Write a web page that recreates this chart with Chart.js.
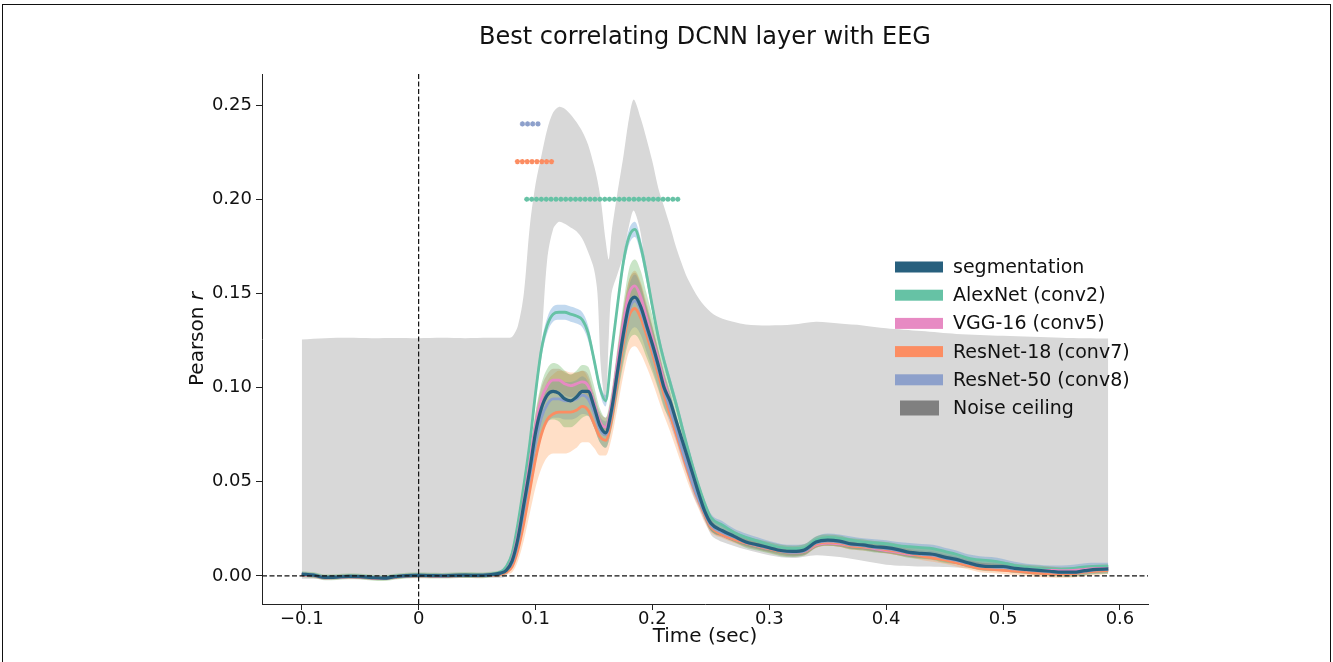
<!DOCTYPE html>
<html>
<head>
<meta charset="utf-8">
<title>Best correlating DCNN layer with EEG</title>
<script src="https://cdn.jsdelivr.net/npm/chart.js@4.4.1/dist/chart.umd.min.js"></script>
<style>
  body { margin: 0; background: #fff; }
  #wrap { position: relative; width: 1333px; height: 662px; overflow: hidden; }
  #frame { position: absolute; left: 2px; top: 4px; width: 1327px; height: 700px;
           border: 1.5px solid #111; border-bottom: none; pointer-events: none; }
  canvas { position: absolute; left: 0; top: 0; }
</style>
</head>
<body>
<div id="wrap">
  <canvas id="chart" width="1333" height="662"></canvas>
  <div id="frame"></div>
</div>
<script>
// time axis (sec) shared by the model curves
const times = [
  -0.1, -0.09, -0.08, -0.07, -0.06, -0.05, -0.04, -0.03, -0.02, -0.01, 0, 0.01, 0.02, 0.03, 0.04, 0.05, 0.06, 0.07,
  0.075, 0.08, 0.085, 0.09, 0.095, 0.1, 0.105, 0.11, 0.115, 0.12, 0.125, 0.13, 0.135, 0.14, 0.145, 0.15, 0.155, 0.16,
  0.165, 0.17, 0.175, 0.18, 0.185, 0.19, 0.195, 0.2, 0.205, 0.21, 0.215, 0.22, 0.225, 0.23, 0.235, 0.24, 0.245, 0.25,
  0.26, 0.27, 0.28, 0.29, 0.3, 0.31, 0.32, 0.33, 0.34, 0.35, 0.36, 0.37, 0.38, 0.39, 0.4, 0.41, 0.42, 0.43, 0.44, 0.45,
  0.46, 0.47, 0.48, 0.49, 0.5, 0.51, 0.52, 0.53, 0.54, 0.55, 0.56, 0.57, 0.58, 0.59
];

const segmentation = [
  0.001, 0.0004, -0.0008, -0.0006, -0.0002, -0.0004, -0.0009, -0.0012, -0.0004, 0.0002, 0.0003, 0.0002, 0.0001, 0.0003, 0.0004, 0.0003, 0.0006, 0.0015,
  0.003, 0.008, 0.02, 0.038, 0.056, 0.076, 0.089, 0.096, 0.098, 0.097, 0.094, 0.093, 0.095, 0.098, 0.098, 0.09, 0.08, 0.076,
  0.088, 0.108, 0.128, 0.144, 0.148, 0.143, 0.133, 0.123, 0.112, 0.1, 0.093, 0.083, 0.073, 0.063, 0.053, 0.043, 0.034, 0.028,
  0.024, 0.021, 0.018, 0.0165, 0.015, 0.0135, 0.013, 0.0138, 0.018, 0.019, 0.0185, 0.017, 0.0165, 0.0155, 0.015, 0.014, 0.0125, 0.012, 0.0115, 0.01,
  0.0088, 0.007, 0.0055, 0.005, 0.005, 0.004, 0.0035, 0.003, 0.0025, 0.002, 0.002, 0.0028, 0.0035, 0.0037
];
const segmentationErr = [
  0.0015, 0.0015, 0.0015, 0.0015, 0.0015, 0.0015, 0.0015, 0.0015, 0.0015, 0.0015, 0.0015, 0.0015, 0.0015, 0.0015, 0.0015, 0.0015, 0.0015, 0.0015,
  0.002, 0.003, 0.005, 0.007, 0.009, 0.011, 0.013, 0.014, 0.015, 0.015, 0.015, 0.014, 0.014, 0.014, 0.013, 0.011, 0.009, 0.008,
  0.01, 0.013, 0.016, 0.019, 0.02, 0.019, 0.017, 0.015, 0.013, 0.011, 0.01, 0.009, 0.008, 0.007, 0.006, 0.005, 0.004, 0.004,
  0.003, 0.003, 0.003, 0.003, 0.003, 0.003, 0.003, 0.003, 0.003, 0.003, 0.003, 0.003, 0.003, 0.003, 0.003, 0.003, 0.003, 0.003, 0.003, 0.003,
  0.0025, 0.0025, 0.0025, 0.0025, 0.0025, 0.0025, 0.0025, 0.0025, 0.0025, 0.0025, 0.0025, 0.0025, 0.0025, 0.0025
];

const alexnet = [
  0.0008, 0.0005, -0.0006, -0.0005, -0.0001, -0.0003, -0.0008, -0.001, -0.0003, 0.0002, 0.0004, 0.0003, 0.0002, 0.0003, 0.0004, 0.0004, 0.0007, 0.002,
  0.005, 0.012, 0.028, 0.048, 0.07, 0.097, 0.12, 0.133, 0.139, 0.14, 0.14, 0.139, 0.138, 0.136, 0.129, 0.115, 0.1, 0.093,
  0.118, 0.143, 0.166, 0.18, 0.184, 0.175, 0.16, 0.143, 0.127, 0.114, 0.103, 0.092, 0.08, 0.068, 0.057, 0.047, 0.038, 0.031,
  0.027, 0.023, 0.0205, 0.0185, 0.0165, 0.015, 0.0145, 0.015, 0.019, 0.0205, 0.02, 0.019, 0.018, 0.0175, 0.017, 0.016, 0.0155, 0.015, 0.0145, 0.013,
  0.0115, 0.0095, 0.0085, 0.008, 0.007, 0.0055, 0.0045, 0.004, 0.0035, 0.0035, 0.004, 0.0048, 0.005, 0.005
];
const alexnetErr = [
  0.001, 0.001, 0.001, 0.001, 0.001, 0.001, 0.001, 0.001, 0.001, 0.001, 0.001, 0.001, 0.001, 0.001, 0.001, 0.001, 0.001, 0.001,
  0.001, 0.002, 0.002, 0.003, 0.003, 0.004, 0.004, 0.004, 0.004, 0.004, 0.004, 0.004, 0.004, 0.004, 0.004, 0.003, 0.003, 0.003,
  0.003, 0.003, 0.004, 0.004, 0.004, 0.004, 0.004, 0.003, 0.003, 0.003, 0.003, 0.003, 0.003, 0.003, 0.003, 0.002, 0.002, 0.002,
  0.002, 0.002, 0.002, 0.002, 0.002, 0.002, 0.002, 0.002, 0.002, 0.002, 0.002, 0.002, 0.002, 0.002, 0.002, 0.002, 0.002, 0.002, 0.002, 0.002,
  0.002, 0.002, 0.002, 0.002, 0.002, 0.002, 0.002, 0.002, 0.002, 0.002, 0.002, 0.002, 0.002, 0.002
];

const vgg16 = [
  0.0006, 0.0002, -0.001, -0.0008, -0.0005, -0.0006, -0.0011, -0.0013, -0.0006, 0, 0.0001, 0, -0.0001, 0.0001, 0.0002, 0.0001, 0.0004, 0.0012,
  0.003, 0.009, 0.022, 0.04, 0.06, 0.08, 0.094, 0.101, 0.104, 0.104, 0.102, 0.101, 0.102, 0.103, 0.101, 0.092, 0.082, 0.079,
  0.091, 0.113, 0.134, 0.15, 0.154, 0.148, 0.137, 0.126, 0.115, 0.103, 0.093, 0.082, 0.071, 0.06, 0.05, 0.041, 0.033, 0.027,
  0.022, 0.0195, 0.0175, 0.016, 0.0145, 0.0135, 0.0125, 0.013, 0.0165, 0.0175, 0.017, 0.016, 0.0155, 0.0145, 0.0135, 0.0125, 0.0115, 0.011, 0.0105, 0.0095,
  0.008, 0.0065, 0.0055, 0.005, 0.0048, 0.004, 0.0035, 0.003, 0.003, 0.0028, 0.003, 0.0035, 0.004, 0.004
];
const vgg16Err = [
  0.001, 0.001, 0.001, 0.001, 0.001, 0.001, 0.001, 0.001, 0.001, 0.001, 0.001, 0.001, 0.001, 0.001, 0.001, 0.001, 0.001, 0.001,
  0.001, 0.002, 0.003, 0.004, 0.005, 0.006, 0.006, 0.006, 0.006, 0.006, 0.006, 0.006, 0.006, 0.006, 0.006, 0.005, 0.005, 0.005,
  0.005, 0.006, 0.007, 0.007, 0.007, 0.007, 0.006, 0.006, 0.005, 0.005, 0.005, 0.004, 0.004, 0.004, 0.003, 0.003, 0.003, 0.003,
  0.0015, 0.0015, 0.0015, 0.0015, 0.0015, 0.0015, 0.0015, 0.0015, 0.0015, 0.0015, 0.0015, 0.0015, 0.0015, 0.0015, 0.0015, 0.0015, 0.0015, 0.0015, 0.0015, 0.0015,
  0.0015, 0.0015, 0.0015, 0.0015, 0.0015, 0.0015, 0.0015, 0.0015, 0.0015, 0.0015, 0.0015, 0.0015, 0.0015, 0.0015
];

const resnet18 = [
  0.0007, 0.0003, -0.0009, -0.0007, -0.0003, -0.0005, -0.001, -0.0012, -0.0005, 0.0001, 0.0002, 0.0001, 0, 0.0002, 0.0003, 0.0002, 0.0004, 0.0008,
  0.002, 0.005, 0.014, 0.028, 0.045, 0.062, 0.075, 0.083, 0.086, 0.087, 0.087, 0.087, 0.088, 0.09, 0.088, 0.081, 0.074, 0.072,
  0.083, 0.103, 0.123, 0.138, 0.142, 0.137, 0.128, 0.118, 0.107, 0.096, 0.086, 0.076, 0.066, 0.056, 0.047, 0.039, 0.032, 0.026,
  0.022, 0.0195, 0.0175, 0.016, 0.0145, 0.013, 0.0125, 0.013, 0.017, 0.018, 0.0175, 0.016, 0.0155, 0.015, 0.014, 0.013, 0.012, 0.0105, 0.0095, 0.0085,
  0.007, 0.0055, 0.004, 0.0035, 0.003, 0.0025, 0.002, 0.0015, 0.0012, 0.001, 0.0012, 0.002, 0.0025, 0.003
];
const resnet18Err = [
  0.001, 0.001, 0.001, 0.001, 0.001, 0.001, 0.001, 0.001, 0.001, 0.001, 0.001, 0.001, 0.001, 0.001, 0.001, 0.001, 0.001, 0.001,
  0.001, 0.003, 0.006, 0.009, 0.012, 0.015, 0.018, 0.02, 0.021, 0.022, 0.022, 0.021, 0.02, 0.019, 0.017, 0.013, 0.01, 0.008,
  0.01, 0.014, 0.017, 0.019, 0.02, 0.019, 0.017, 0.015, 0.013, 0.011, 0.009, 0.008, 0.007, 0.006, 0.005, 0.004, 0.004, 0.003,
  0.002, 0.002, 0.002, 0.002, 0.002, 0.002, 0.002, 0.002, 0.002, 0.002, 0.002, 0.002, 0.002, 0.002, 0.002, 0.002, 0.002, 0.002, 0.002, 0.002,
  0.002, 0.002, 0.002, 0.002, 0.002, 0.002, 0.002, 0.002, 0.002, 0.002, 0.002, 0.002, 0.002, 0.002
];

const resnet50 = [
  0.0009, 0.0004, -0.0008, -0.0006, -0.0003, -0.0004, -0.0009, -0.0011, -0.0004, 0.0001, 0.0003, 0.0002, 0.0001, 0.0002, 0.0003, 0.0003, 0.0005, 0.0012,
  0.003, 0.007, 0.018, 0.035, 0.053, 0.071, 0.084, 0.091, 0.094, 0.094, 0.093, 0.093, 0.094, 0.096, 0.094, 0.087, 0.078, 0.075,
  0.086, 0.106, 0.126, 0.141, 0.146, 0.141, 0.131, 0.121, 0.11, 0.099, 0.089, 0.079, 0.068, 0.058, 0.048, 0.04, 0.033, 0.027,
  0.023, 0.0205, 0.0178, 0.0162, 0.0147, 0.0132, 0.0125, 0.0132, 0.0175, 0.0185, 0.018, 0.0165, 0.016, 0.015, 0.0145, 0.0135, 0.0122, 0.0115, 0.011, 0.0095,
  0.0083, 0.0067, 0.0052, 0.0047, 0.0045, 0.0037, 0.0032, 0.0027, 0.0022, 0.0018, 0.0018, 0.0025, 0.0032, 0.0034
];
const resnet50Err = [
  0.001, 0.001, 0.001, 0.001, 0.001, 0.001, 0.001, 0.001, 0.001, 0.001, 0.001, 0.001, 0.001, 0.001, 0.001, 0.001, 0.001, 0.001,
  0.001, 0.002, 0.004, 0.006, 0.007, 0.008, 0.009, 0.01, 0.01, 0.01, 0.01, 0.01, 0.01, 0.01, 0.009, 0.008, 0.007, 0.007,
  0.008, 0.01, 0.012, 0.013, 0.014, 0.013, 0.012, 0.011, 0.01, 0.009, 0.008, 0.007, 0.006, 0.005, 0.005, 0.004, 0.004, 0.003,
  0.002, 0.002, 0.002, 0.002, 0.002, 0.002, 0.002, 0.002, 0.002, 0.002, 0.002, 0.002, 0.002, 0.002, 0.002, 0.002, 0.002, 0.002, 0.002, 0.002,
  0.002, 0.002, 0.002, 0.002, 0.002, 0.002, 0.002, 0.002, 0.002, 0.002, 0.002, 0.002, 0.002, 0.002
];

// noise ceiling (own time samples)
const ceilTimes = [
  -0.1, -0.08, -0.06, -0.04, -0.02, 0, 0.02, 0.04, 0.06, 0.075,
  0.08, 0.085, 0.09, 0.095, 0.1, 0.105, 0.11, 0.115, 0.12, 0.125,
  0.13, 0.135, 0.14, 0.145, 0.15, 0.153, 0.156, 0.16, 0.1627, 0.165,
  0.17, 0.175, 0.18, 0.184, 0.19, 0.195, 0.2, 0.205, 0.21, 0.215,
  0.22, 0.225, 0.23, 0.24, 0.25, 0.26, 0.28, 0.3, 0.32, 0.34,
  0.36, 0.38, 0.4, 0.43, 0.46, 0.5, 0.55, 0.59
];
const ceilUpper = [
  0.1255, 0.1262, 0.1264, 0.1262, 0.1263, 0.1262, 0.1264, 0.1262, 0.1264, 0.1265,
  0.127, 0.133, 0.15, 0.185, 0.208, 0.223, 0.237, 0.246, 0.249, 0.248,
  0.245, 0.241, 0.236, 0.229, 0.218, 0.21, 0.199, 0.178, 0.168, 0.182,
  0.203, 0.222, 0.243, 0.253, 0.243, 0.232, 0.22, 0.206, 0.196, 0.186,
  0.175, 0.166, 0.158, 0.147, 0.14, 0.1365, 0.1335, 0.133, 0.1335, 0.135,
  0.134, 0.133, 0.1315, 0.13, 0.1285, 0.1275, 0.1265, 0.126
];
const ceilLower = [
  -0.0015, -0.0015, -0.0012, -0.0015, -0.0012, -0.001, -0.001, -0.001, -0.0008, 0,
  0.011, 0.027, 0.047, 0.069, 0.097, 0.125, 0.168, 0.184, 0.188, 0.187,
  0.185, 0.183, 0.179, 0.172, 0.163, 0.15, 0.11, 0.092, 0.127, 0.15,
  0.16, 0.17, 0.186, 0.194, 0.182, 0.157, 0.14, 0.125, 0.112, 0.1,
  0.089, 0.077, 0.064, 0.04, 0.022, 0.018, 0.014, 0.011, 0.0095, 0.011,
  0.01, 0.008, 0.006, 0.005, 0.0045, 0.003, 0.001, 0.002
];

// significance markers
const resnet50Sig = [0.0888, 0.0932, 0.0976, 0.1021];
const resnet50SigLevel = 0.24;
const resnet18Sig = [0.0845, 0.0887, 0.0929, 0.097, 0.1012, 0.1054, 0.1095, 0.1137];
const resnet18SigLevel = 0.22;
const alexnetSig = [
  0.0925, 0.0967, 0.1008, 0.105, 0.1092, 0.1133, 0.1175, 0.1217, 0.1258, 0.13, 0.1342, 0.1383, 0.1425, 0.1467, 0.1508, 0.155,
  0.1592, 0.1633, 0.1675, 0.1717, 0.1758, 0.18, 0.1842, 0.1883, 0.1925, 0.1967, 0.2008, 0.205, 0.2092, 0.2133, 0.2175, 0.2217
];
const alexnetSigLevel = 0.2;

const xTicks = [-0.1, 0, 0.1, 0.2, 0.3, 0.4, 0.5, 0.6];
const xTickLabels = ['\u22120.1', '0', '0.1', '0.2', '0.3', '0.4', '0.5', '0.6'];
const yTicks = [0, 0.05, 0.1, 0.15, 0.2, 0.25];
const yTickLabels = ['0.00', '0.05', '0.10', '0.15', '0.20', '0.25'];

const chartTitle = 'Best correlating DCNN layer with EEG';
const legendLabels = ['segmentation', 'AlexNet (conv2)', 'VGG-16 (conv5)', 'ResNet-18 (conv7)', 'ResNet-50 (conv8)', 'Noise ceiling'];

const FONT = "'DejaVu Sans', sans-serif";

const series = [
  { label: legendLabels[1], mean: alexnet, err: alexnetErr, color: '#66c2a5', band: 'rgba(80,145,210,0.35)', width: 2.8 },
  { label: legendLabels[2], mean: vgg16, err: vgg16Err, color: '#e78ac3', band: 'rgba(190,90,80,0.28)', width: 2.8 },
  { label: legendLabels[3], mean: resnet18, err: resnet18Err, color: '#fc8d62', band: 'rgba(255,150,70,0.3)', width: 2.8 },
  { label: legendLabels[4], mean: resnet50, err: resnet50Err, color: '#8da0cb', band: 'rgba(120,130,200,0.3)', width: 2.8 },
  { label: legendLabels[0], mean: segmentation, err: segmentationErr, color: '#28607e', band: 'rgba(80,170,70,0.3)', width: 3.2 }
];

function toPoints(ts, vals) {
  return ts.map((t, i) => ({ x: t, y: vals[i] }));
}

const datasets = [];

// noise ceiling band
datasets.push({ data: toPoints(ceilTimes, ceilUpper), borderWidth: 0, pointRadius: 0, fill: false, order: 100, tension: 0.3 });
datasets.push({ data: toPoints(ceilTimes, ceilLower), borderWidth: 0, pointRadius: 0, fill: '-1',
  backgroundColor: '#d8d8d8', order: 100, tension: 0.3 });

// error bands
series.forEach((s, k) => {
  datasets.push({ data: toPoints(times, s.mean.map((v, i) => v + s.err[i])), borderWidth: 0, pointRadius: 0,
    fill: false, order: 50 - k, cubicInterpolationMode: 'monotone' });
  datasets.push({ data: toPoints(times, s.mean.map((v, i) => v - s.err[i])), borderWidth: 0, pointRadius: 0,
    fill: '-1', backgroundColor: s.band, order: 50 - k, cubicInterpolationMode: 'monotone' });
});

// mean lines, segmentation last so it sits on top
series.forEach((s, k) => {
  datasets.push({ label: s.label, data: toPoints(times, s.mean), borderColor: s.color, borderWidth: s.width,
    pointRadius: 0, fill: false, order: 20 - k, cubicInterpolationMode: 'monotone' });
});

// significance rows
[[alexnetSig, alexnetSigLevel, '#66c2a5'], [resnet18Sig, resnet18SigLevel, '#fc8d62'], [resnet50Sig, resnet50SigLevel, '#8da0cb']]
  .forEach(([ts, level, color]) => {
    datasets.push({ data: ts.map(t => ({ x: t, y: level })), showLine: false, pointStyle: 'star', pointRadius: 2.6,
      pointBorderWidth: 1.5, borderColor: color, backgroundColor: color, order: 0 });
  });

const refLines = {
  id: 'refLines',
  afterDatasetsDraw(chart) {
    const { ctx, chartArea, scales } = chart;
    const x0 = scales.x.getPixelForValue(0);
    const y0 = scales.y.getPixelForValue(0);
    ctx.save();
    ctx.strokeStyle = '#111';
    ctx.lineWidth = 1.2;
    ctx.setLineDash([5, 2.5]);
    ctx.beginPath();
    ctx.moveTo(x0, chartArea.top);
    ctx.lineTo(x0, chartArea.bottom);
    ctx.moveTo(chartArea.left, y0);
    ctx.lineTo(chartArea.right, y0);
    ctx.stroke();
    ctx.restore();
  }
};

const extras = {
  id: 'extras',
  afterDraw(chart) {
    const { ctx, chartArea } = chart;
    ctx.save();
    ctx.fillStyle = '#111';
    ctx.textBaseline = 'middle';
    ctx.textAlign = 'center';
    // title, centred over the axes
    ctx.font = '24px ' + FONT;
    ctx.fillText(chartTitle, (chartArea.left + chartArea.right) / 2, 38);

    // y axis title with italic r
    const cy = (chartArea.top + chartArea.bottom) / 2;
    ctx.translate(198, cy);
    ctx.rotate(-Math.PI / 2);
    ctx.textAlign = 'left';
    ctx.font = '20px ' + FONT;
    const w1 = ctx.measureText('Pearson ').width;
    ctx.font = 'italic 20px ' + FONT;
    const w2 = ctx.measureText('r').width;
    const sx = -(w1 + w2) / 2;
    ctx.font = '20px ' + FONT;
    ctx.fillText('Pearson ', sx, 0);
    ctx.font = 'italic 20px ' + FONT;
    ctx.fillText('r', sx + w1, 0);
    ctx.restore();

    // legend
    ctx.save();
    const colors = series.map(s => s.color);
    const legendColors = [colors[4], colors[0], colors[1], colors[2], colors[3], '#808080'];
    ctx.font = '19px ' + FONT;
    ctx.textBaseline = 'middle';
    legendLabels.forEach((lab, i) => {
      const y = 267 + i * 28.2;
      ctx.fillStyle = legendColors[i];
      if (i < 5) ctx.fillRect(895, y - 5.5, 48, 11);
      else ctx.fillRect(900, y - 7.5, 39, 15);
      ctx.fillStyle = '#111';
      ctx.fillText(lab, 953, y + 1);
    });
    ctx.restore();
  }
};

new Chart(document.getElementById('chart'), {
  type: 'line',
  data: { datasets },
  options: {
    responsive: false,
    animation: false,
    devicePixelRatio: 1,
    layout: { padding: { left: 0, right: 185, top: 74, bottom: 0 } },
    plugins: {
      legend: { display: false },
      tooltip: { enabled: false },
      title: { display: false }
    },
    scales: {
      x: {
        type: 'linear',
        min: -0.134,
        max: 0.624,
        afterBuildTicks: scale => { scale.ticks = xTicks.map(v => ({ value: v })); },
        afterFit: scale => { scale.height = 58; },
        ticks: {
          color: '#111',
          font: { family: FONT, size: 18 },
          padding: -1,
          maxRotation: 0,
          callback: (v, i) => xTickLabels[i]
        },
        grid: { drawOnChartArea: false, drawTicks: true, tickLength: 6, color: '#222' },
        border: { display: true, color: '#222', width: 1 },
        title: {
          display: true,
          text: 'Time (sec)',
          color: '#111',
          font: { family: FONT, size: 20 },
          padding: { top: 0, bottom: 13 }
        }
      },
      y: {
        type: 'linear',
        min: -0.0149,
        max: 0.2665,
        afterBuildTicks: scale => { scale.ticks = yTicks.map(v => ({ value: v })); },
        afterFit: scale => { scale.width = 262; },
        ticks: {
          color: '#111',
          font: { family: FONT, size: 18 },
          padding: 4,
          callback: (v, i) => yTickLabels[i]
        },
        grid: { drawOnChartArea: false, drawTicks: true, tickLength: 6, color: '#222' },
        border: { display: true, color: '#222', width: 1 }
      }
    }
  },
  plugins: [refLines, extras]
});
</script>
</body>
</html>
